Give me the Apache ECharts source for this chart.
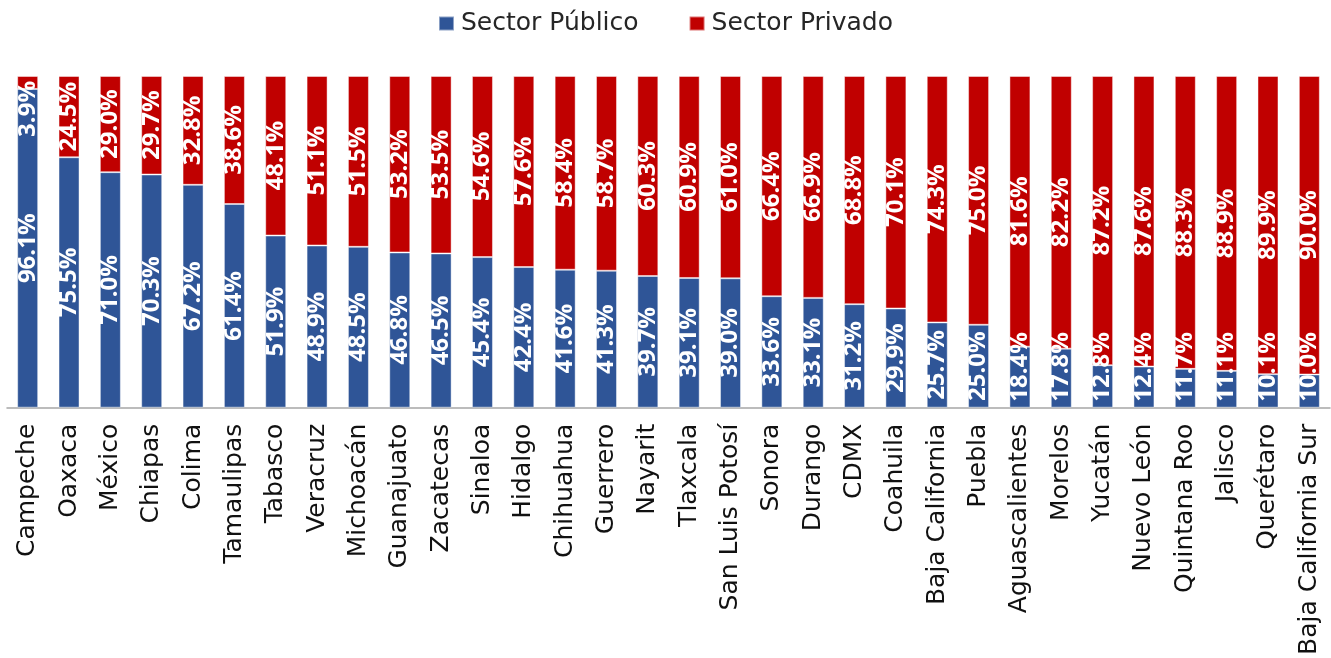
<!DOCTYPE html>
<html>
<head>
<meta charset="utf-8">
<script src="https://cdn.jsdelivr.net/npm/echarts@6/dist/echarts.min.js"></script>
<style>
  html, body { margin: 0; padding: 0; background: #fff; }
  #chart { width: 1331px; height: 658px; }
</style>
</head>
<body>
<div id="chart"></div>
<script>
const categories = ["Campeche","Oaxaca","México","Chiapas","Colima","Tamaulipas","Tabasco","Veracruz","Michoacán","Guanajuato","Zacatecas","Sinaloa","Hidalgo","Chihuahua","Guerrero","Nayarit","Tlaxcala","San Luis Potosí","Sonora","Durango","CDMX","Coahuila","Baja California","Puebla","Aguascalientes","Morelos","Yucatán","Nuevo León","Quintana Roo","Jalisco","Querétaro","Baja California Sur"];
const publico = [96.1,75.5,71.0,70.3,67.2,61.4,51.9,48.9,48.5,46.8,46.5,45.4,42.4,41.6,41.3,39.7,39.1,39.0,33.6,33.1,31.2,29.9,25.7,25.0,18.4,17.8,12.8,12.4,11.7,11.1,10.1,10.0];
const privado = [3.9,24.5,29.0,29.7,32.8,38.6,48.1,51.1,51.5,53.2,53.5,54.6,57.6,58.4,58.7,60.3,60.9,61.0,66.4,66.9,68.8,70.1,74.3,75.0,81.6,82.2,87.2,87.6,88.3,88.9,89.9,90.0];
const seriesNames = ["Sector Público", "Sector Privado"];

const labelBase = {
  show: true,
  rotate: 90,
  position: 'inside',
  color: '#ffffff',
  fontFamily: 'Open Sans',
  fontWeight: 'bold',
  fontSize: 24,
  formatter: p => p.value.toFixed(1) + '%'
};

// Labels that would not fit inside their segment are pushed inside the plot area
const publicoLabelData = publico.map(v => v < 23
  ? { value: v, label: { position: 'insideBottom', align: 'left', verticalAlign: 'middle', distance: 6 } }
  : v);
const privadoLabelData = privado.map(v => v < 22
  ? { value: v, label: { position: 'insideTop', align: 'right', verticalAlign: 'middle', distance: 5 } }
  : v);

const barStyle = (color) => ({ color: color, borderColor: 'rgba(255,255,255,0.45)', borderWidth: 1 });
const clearStyle = { color: 'rgba(0,0,0,0)', borderWidth: 0 };

const chart = echarts.init(document.getElementById('chart'), null, { renderer: 'canvas' });
chart.setOption({
  animation: false,
  backgroundColor: '#ffffff',
  legend: {
    top: 6,
    left: 'center',
    icon: 'rect',
    itemWidth: 15,
    itemHeight: 14,
    itemGap: 50,
    textStyle: { fontFamily: 'DejaVu Sans', fontSize: 25, color: '#262626', padding: [0, 0, 0, 2] },
    data: seriesNames
  },
  grid: { left: 7, right: 1, top: 76, bottom: 250, containLabel: false },
  xAxis: {
    type: 'category',
    data: categories,
    axisLine: { lineStyle: { color: '#A6A6A6', width: 1.5 } },
    axisTick: { length: 8, lineStyle: { color: '#A6A6A6', width: 1.5 } },
    axisLabel: {
      interval: 0,
      rotate: 90,
      margin: 16,
      fontFamily: 'DejaVu Sans',
      fontSize: 25,
      color: '#111111'
    }
  },
  yAxis: { type: 'value', min: 0, max: 100, show: false, splitLine: { show: false } },
  series: [
    {
      name: seriesNames[0], type: 'bar', stack: 'bars', barWidth: 21, barGap: '-100%',
      data: publico, itemStyle: barStyle('#2F5597'), label: { show: false }
    },
    {
      name: seriesNames[1], type: 'bar', stack: 'bars', barWidth: 21, barGap: '-100%',
      data: privado, itemStyle: barStyle('#C00000'), label: { show: false }
    },
    {
      name: 'lbl-publico', type: 'bar', stack: 'labels', barWidth: 21, barGap: '-100%', z: 5,
      silent: true, legendHoverLink: false,
      data: publicoLabelData, itemStyle: clearStyle, label: labelBase
    },
    {
      name: 'lbl-privado', type: 'bar', stack: 'labels', barWidth: 21, barGap: '-100%', z: 5,
      silent: true, legendHoverLink: false,
      data: privadoLabelData, itemStyle: clearStyle, label: labelBase
    }
  ]
});
</script>
</body>
</html>
